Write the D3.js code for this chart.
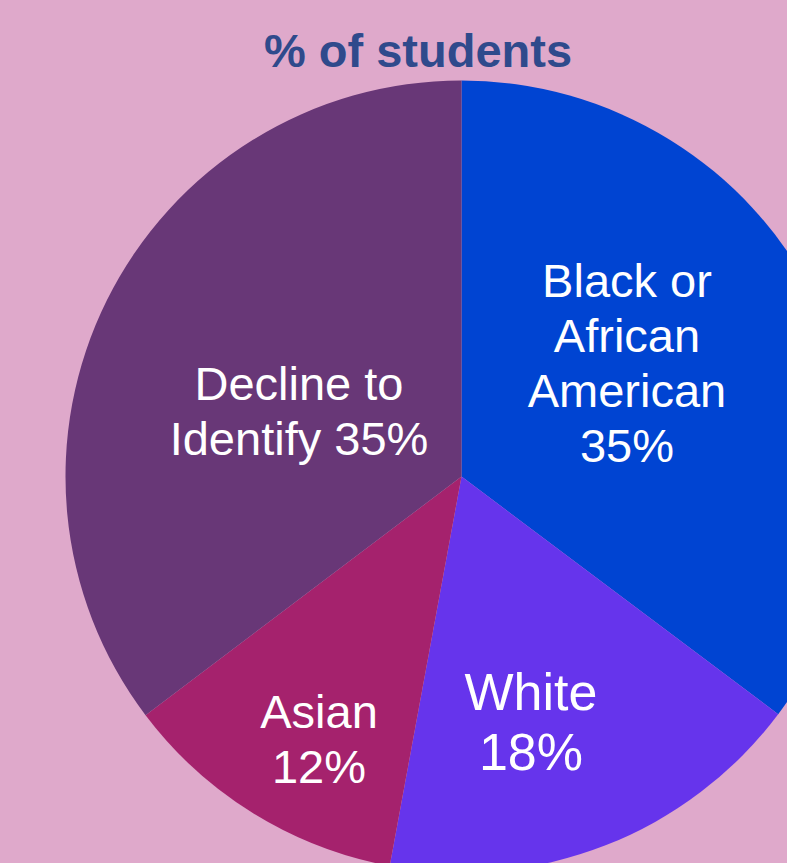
<!DOCTYPE html>
<html>
<head>
<meta charset="utf-8">
<script src="https://cdn.jsdelivr.net/npm/d3@7"></script>
<style>
  html, body { margin: 0; padding: 0; background: #dfa9cb; overflow: hidden; }
  svg { display: block; }
</style>
</head>
<body>
<script>
const groups = ["Black or African American", "White", "Asian", "Decline to Identify"];
const shares = [35.25, 17.65, 11.8, 35.3];
const labelLines = [
    ["Black or", "African", "American", "35%"],
    ["White", "18%"],
    ["Asian", "12%"],
    ["Decline to", "Identify 35%"]
];
const sliceColors = ["#0044d2", "#6634ec", "#a5226d", "#683777"];

const width = 787, height = 863;
const cx = 461.5, cy = 476.5, radius = 396;

const svg = d3.select("body").append("svg")
    .attr("width", width)
    .attr("height", height);

svg.append("rect")
    .attr("width", width)
    .attr("height", height)
    .attr("fill", "#dfa9cb");

svg.append("text")
    .attr("x", 418)
    .attr("y", 67)
    .attr("text-anchor", "middle")
    .attr("font-family", "Liberation Sans, Arial, sans-serif")
    .attr("font-weight", "bold")
    .attr("font-size", 47)
    .attr("fill", "#2f4a8c")
    .text("% of students");

const data = groups.map((g, i) => ({ name: g, value: shares[i], lines: labelLines[i], color: sliceColors[i] }));

const pie = d3.pie()
    .value(d => d.value)
    .sort(null);

const arc = d3.arc()
    .innerRadius(0)
    .outerRadius(radius);

const arcs = pie(data);

const g = svg.append("g")
    .attr("transform", `translate(${cx},${cy})`);

g.selectAll("path")
    .data(arcs)
    .enter()
    .append("path")
    .attr("d", arc)
    .attr("fill", d => d.data.color);

// label placement per slice (centre x, first baseline, font size, line height)
const labelPos = [
    { x: 627, y: 297, size: 47, lh: 55 },
    { x: 531, y: 710, size: 52, lh: 60 },
    { x: 319, y: 728, size: 47, lh: 55 },
    { x: 299, y: 400, size: 47, lh: 55 }
];

arcs.forEach((a, i) => {
    const p = labelPos[i];
    const t = svg.append("text")
        .attr("text-anchor", "middle")
        .attr("font-family", "Liberation Sans, Arial, sans-serif")
        .attr("font-size", p.size)
        .attr("fill", "#ffffff");
    a.data.lines.forEach((line, j) => {
        t.append("tspan")
            .attr("x", p.x)
            .attr("y", p.y + j * p.lh)
            .text(line);
    });
});
</script>
</body>
</html>
